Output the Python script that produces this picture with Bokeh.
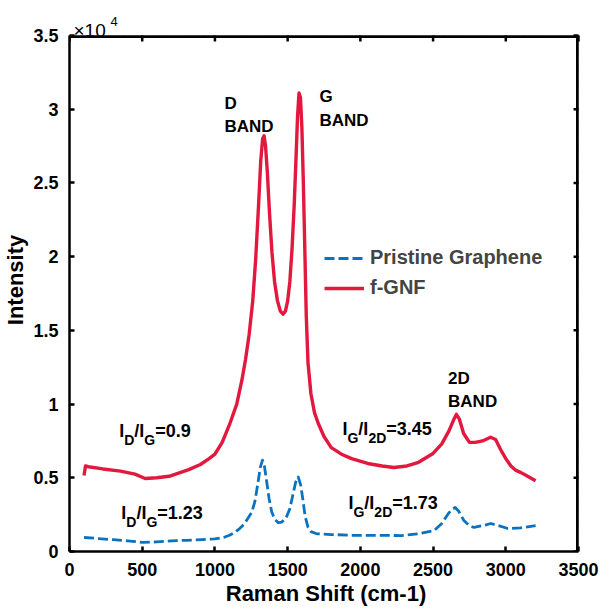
import math
from bokeh.plotting import figure
from bokeh.models import (ColumnDataSource, FixedTicker, CustomJSTickFormatter,
                          Range1d, Legend, LegendItem)
from bokeh.core.properties import value
from bokeh.embed import file_html
from bokeh.resources import INLINE

# ---------------- data ----------------
fgnf_shift = [100, 110, 130, 230, 350, 450, 520, 600, 685, 820, 900, 960, 1000, 1050, 1100,
              1150, 1185, 1210, 1235, 1260, 1280, 1300, 1315, 1328, 1338, 1348, 1360, 1375,
              1392, 1410, 1430, 1450, 1468, 1485, 1500, 1515, 1530, 1545, 1558, 1568, 1578,
              1588, 1598, 1608, 1618, 1628, 1640, 1660, 1685, 1710, 1750, 1800, 1870, 1940,
              2050, 2150, 2230, 2320, 2400, 2500, 2560, 2610, 2640, 2660, 2680, 2710, 2750,
              2790, 2840, 2895, 2930, 2965, 3000, 3035, 3070, 3105, 3150, 3205]
fgnf_int = [5150, 5800, 5750, 5600, 5450, 5250, 4950, 5000, 5100, 5550, 5900, 6300, 6600,
            7400, 8600, 10000, 11600, 13000, 14700, 17000, 19800, 23500, 26500, 28000, 28200,
            27500, 25800, 23000, 20300, 18300, 17000, 16300, 16100, 16300, 17000, 18300,
            20500, 23500, 26800, 29500, 31100, 30800, 28700, 25000, 20500, 16000, 12800,
            10700, 9400, 8700, 7800, 7050, 6600, 6300, 5970, 5800, 5700, 5800, 6050, 6650,
            7300, 8200, 8900, 9300, 9000, 8000, 7400, 7400, 7500, 7750, 7600, 6900, 6300,
            5800, 5500, 5350, 5100, 4800]

prist_shift = [100, 200, 300, 400, 500, 600, 700, 800, 911, 1000, 1060, 1100, 1137, 1163,
               1200, 1230, 1253, 1275, 1295, 1312, 1327, 1340, 1355, 1372, 1390, 1410, 1436,
               1460, 1490, 1515, 1535, 1555, 1573, 1590, 1605, 1620, 1640, 1660, 1700, 1800,
               1950, 2100, 2280, 2400, 2507, 2560, 2603, 2630, 2652, 2675, 2712, 2750, 2781,
               2840, 2897, 2950, 3014, 3100, 3205]
prist_int = [950, 880, 800, 720, 620, 650, 720, 760, 810, 850, 950, 1100, 1290, 1500,
             1850, 2300, 2650, 3400, 4600, 5700, 6200, 5800, 4800, 3600, 2700, 2200, 1950,
             2000, 2300, 2900, 3800, 4700, 5050, 4500, 3500, 2400, 1650, 1350, 1200, 1150,
             1100, 1100, 1080, 1200, 1420, 1900, 2550, 2850, 2990, 2750, 2100, 1750, 1630,
             1750, 1900, 1750, 1560, 1600, 1760]

band_x = [1065, 1065, 1719, 1719, 2603, 2603]
band_y = [30388, 28828, 30862, 29234, 11735, 10174]
band_text = ["D", "BAND", "G", "BAND", "2D", "BAND"]

# ratio labels: (x, y, numerator subscript, denominator subscript, value)
ratio_x = [342, 356, 1877, 1918]
ratio_y = [8140, 2578, 8343, 3256]
ratio_num = ["D", "D", "G", "G"]
ratio_den = ["G", "G", "2D", "2D"]
ratio_val = ["=0.9", "=1.23", "=3.45", "=1.73"]

x_ticks = [0, 500, 1000, 1500, 2000, 2500, 3000, 3500]
y_ticks = [0, 5000, 10000, 15000, 20000, 25000, 30000, 35000]

RED = "#E2183F"
BLUE = "#0A72BE"
FONT = "Liberation Sans"

# box of the axes in pixels; the plotting frame extends a little beyond it (top/right)
BOX_W, BOX_H = 511, 516
PAD_TOP, PAD_RIGHT = 27, 4
x_max = x_ticks[-1] * (BOX_W + PAD_RIGHT) / BOX_W
y_max = y_ticks[-1] * (BOX_H + PAD_TOP) / BOX_H
dx_px = x_ticks[-1] / BOX_W   # data units per pixel
dy_px = y_ticks[-1] / BOX_H

p = figure(width=607, height=611, output_backend="svg", toolbar_location=None,
           x_range=Range1d(x_ticks[0], x_max), y_range=Range1d(y_ticks[0], y_max),
           min_border_left=67, min_border_right=29 - PAD_RIGHT, min_border_top=35 - PAD_TOP,
           min_border_bottom=60,
           x_axis_label="Raman Shift (cm-1)", y_axis_label="Intensity")
p.grid.visible = False
p.outline_line_color = None
p.background_fill_color = "white"
p.border_fill_color = "white"

p.yaxis[0].formatter = CustomJSTickFormatter(code="return (tick/1e4).toString();")
p.xaxis[0].ticker = FixedTicker(ticks=x_ticks)
p.yaxis[0].ticker = FixedTicker(ticks=y_ticks)
p.xaxis[0].bounds = (x_ticks[0], x_ticks[-1])
p.yaxis[0].bounds = (y_ticks[0], y_ticks[-1])

for ax in [p.xaxis[0], p.yaxis[0]]:
    ax.axis_line_width = 2.5
    ax.major_tick_line_width = 2.5
    ax.major_tick_in = 5
    ax.major_tick_out = 0
    ax.minor_tick_line_color = None
    ax.major_label_text_font = FONT
    ax.major_label_text_font_style = "bold"
    ax.major_label_text_font_size = "18px"
    ax.major_label_text_color = "black"
    ax.axis_label_text_font = FONT
    ax.axis_label_text_font_style = "bold"
    ax.axis_label_text_font_size = "22px"
    ax.axis_label_text_color = "black"
    ax.axis_label_standoff = 2
p.xaxis[0].major_label_standoff = 11
p.yaxis[0].major_label_standoff = 11

# closing box (top and right edges), drawn just inside the box, with inward ticks
nx, ny = len(x_ticks), len(y_ticks)
thick = 2.5
# right-edge ticks (horizontal bars ending at the right edge)
p.quad(left=[x_ticks[-1] - 5 * dx_px] * ny, right=[x_ticks[-1]] * ny,
       bottom=[t - 1.25 * dy_px for t in y_ticks], top=[t + 1.25 * dy_px for t in y_ticks],
       fill_color="black", line_color=None)
# right edge as a column of short horizontal bars stacked along the edge
edge_y = [y_ticks[0] + i * (y_ticks[-1] - y_ticks[0]) / 70 for i in range(70)]
p.quad(left=[x_ticks[-1] - thick * dx_px] * len(edge_y), right=[x_ticks[-1]] * len(edge_y),
       bottom=edge_y, top=[v + (y_ticks[-1] - y_ticks[0]) / 70 for v in edge_y],
       fill_color="black", line_color=None)
# top edge as a row of short bars
edge_x = [x_ticks[0] + i * (x_ticks[-1] - x_ticks[0]) / 70 for i in range(70)]
p.quad(left=edge_x, right=[v + (x_ticks[-1] - x_ticks[0]) / 70 for v in edge_x],
       bottom=[y_ticks[-1] - thick * dy_px] * len(edge_x), top=[y_ticks[-1]] * len(edge_x),
       fill_color="black", line_color=None)
# top-edge ticks
p.quad(left=[t - 1.25 * dx_px for t in x_ticks], right=[t + 1.25 * dx_px for t in x_ticks],
       bottom=[y_ticks[-1] - 6 * dy_px] * nx, top=[y_ticks[-1]] * nx,
       fill_color="black", line_color=None)
# also as segments, slightly inside the box
p.segment(x0=[x_ticks[0], x_ticks[-1] - 1.25 * dx_px],
          y0=[y_ticks[-1] - 1.25 * dy_px, y_ticks[0]],
          x1=[x_ticks[-1], x_ticks[-1] - 1.25 * dx_px],
          y1=[y_ticks[-1] - 1.25 * dy_px, y_ticks[-1]],
          line_color="black", line_width=2.5)

r_red = p.line(fgnf_shift, fgnf_int, line_color=RED, line_width=3.4, line_join="round")
r_blue = p.line(prist_shift, prist_int, line_color=BLUE, line_width=2.8, line_dash="10 4",
                line_join="round")

legend = Legend(items=[LegendItem(label="Pristine Graphene", renderers=[r_blue]),
                       LegendItem(label="f-GNF", renderers=[r_red])],
                location=(255, 252), glyph_width=40, glyph_height=20,
                label_height=20, spacing=7, padding=0, margin=0, label_standoff=6,
                label_text_font=FONT, label_text_font_style="bold",
                label_text_font_size="20px", border_line_color=None,
                background_fill_alpha=0)
p.add_layout(legend, "center")

# band labels
p.text(x=band_x, y=band_y, text=band_text, text_font=value(FONT), text_font_style="bold",
       text_font_size="17px", text_color="black", text_baseline="alphabetic")

# ratio labels built from pieces (main text + subscripts)
W = {"I": 0.278, "D": 0.722, "G": 0.778, "/": 0.278, "=": 0.584, ".": 0.278, "2": 0.556}
def tw(s, size):
    return sum(W.get(c, 0.556) for c in s) * size

MAIN, SUB, DROP = 18, 14, 9
px, py, pt, pxo, pyo, pfs = [], [], [], [], [], []
for xx, yy, nn, dd, vv in zip(ratio_x, ratio_y, ratio_num, ratio_den, ratio_val):
    off = 0.0
    for s, sub in [("I", False), (nn, True), ("/I", False), (dd, True), (vv, False)]:
        size = SUB if sub else MAIN
        px.append(xx); py.append(yy); pt.append(s)
        pxo.append(off); pyo.append(DROP if sub else 0)
        pfs.append(f"{size}px")
        off += tw(s, size)
src = ColumnDataSource(dict(x=px, y=py, text=pt, xo=pxo, yo=pyo, fs=pfs))
p.text(x="x", y="y", text="text", x_offset="xo", y_offset="yo", text_font_size="fs",
       source=src, text_font=value(FONT), text_font_style="bold", text_color="black",
       text_baseline="alphabetic")

# x10^4 exponent above the top-left corner of the box
p.text(x=[x_ticks[0]], y=[y_ticks[-1]], text=["\u00d710"], x_offset=4, y_offset=-5,
       text_font=value(FONT), text_font_size="19px", text_color="black",
       text_baseline="alphabetic")
p.text(x=[x_ticks[0]], y=[y_ticks[-1]], text=["4"], x_offset=41, y_offset=-14,
       text_font=value(FONT), text_font_size="13px", text_color="black",
       text_baseline="alphabetic")

open("out.html", "w").write(file_html(p, INLINE))
